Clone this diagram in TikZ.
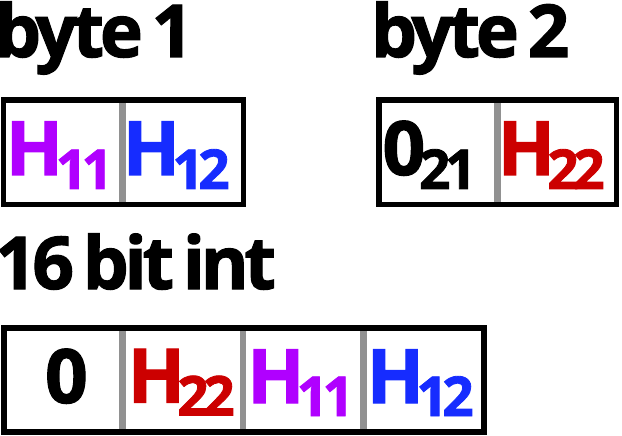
\documentclass[tikz,border=0pt]{standalone}
\usepackage{fontspec}
\setmainfont{Open Sans}[UprightFont={* Bold},FakeBold=1.5]
\newfontfamily\titlefont{Open Sans}[UprightFont={* Bold},FakeBold=1.5,LetterSpace=-6,WordSpace=0.6]
\newfontfamily\subfont{Open Sans}[UprightFont={* Bold},FakeBold=1.5,LetterSpace=-10]
\definecolor{cpurple}{RGB}{176,0,255}
\definecolor{cblue}{RGB}{22,44,255}
\definecolor{cred}{RGB}{204,0,0}
\definecolor{cdiv}{RGB}{145,145,145}
\begin{document}
\begin{tikzpicture}[x=1pt,y=-1pt,
  title/.style={anchor=base west,inner sep=0pt,outer sep=0pt,font=\titlefont\fontsize{73}{73}\selectfont},
  big/.style={anchor=base west,inner sep=0pt,outer sep=0pt,font=\fontsize{75}{75}\selectfont},
  sub/.style={anchor=base west,inner sep=0pt,outer sep=0pt,font=\subfont\fontsize{55}{55}\selectfont},
  frame/.style={draw=black,line width=5.5pt},
  divider/.style={draw=cdiv,line width=6.5pt}]
\useasboundingbox (0,0) rectangle (622,436);
% titles
\node[title] (t1) at (-5,57) {byte 1};
\node[title] (t2) at (371,57) {byte 2};
\node[title] (t3) at (-5,289) {16 bit int};
% box 1
\draw[divider] (122.3,100) -- (122.3,204.5);
\draw[frame] (3.5,100) rectangle (243.3,204.5);
\node[big,text=cpurple] (b1h) at (5.6,175) {H};
\node[sub,text=cpurple] (b1s) at (55.7,189) {11};
\node[big,text=cblue] (b2h) at (122.6,175) {H};
\node[sub,text=cblue] (b2s) at (172.4,189) {12};
% box 2
\draw[divider] (497.7,100) -- (497.7,204.5);
\draw[frame] (379,100) rectangle (616.5,204.5);
\node[big,text=black] (c1h) at (382.5,175) {0};
\node[sub,text=black] (c1s) at (419,189) {21};
\node[big,text=cred] (c2h) at (497.6,175) {H};
\node[sub,text=cred] (c2s) at (547.4,189) {22};
% big box
\draw[divider] (122.3,328) -- (122.3,432);
\draw[divider] (243,328) -- (243,432);
\draw[divider] (363.3,328) -- (363.3,432);
\draw[frame] (4,328) rectangle (484,432);
\node[big,text=black] (e1h) at (45,403) {0};
\node[big,text=cred] (e2h) at (127.6,402.5) {H};
\node[sub,text=cred] (e2s) at (177.4,415.5) {22};
\node[big,text=cpurple] (e3h) at (247.3,403) {H};
\node[sub,text=cpurple] (e3s) at (296.7,416) {11};
\node[big,text=cblue] (e4h) at (366.6,403) {H};
\node[sub,text=cblue] (e4s) at (416.4,416) {12};
\end{tikzpicture}
\end{document}
